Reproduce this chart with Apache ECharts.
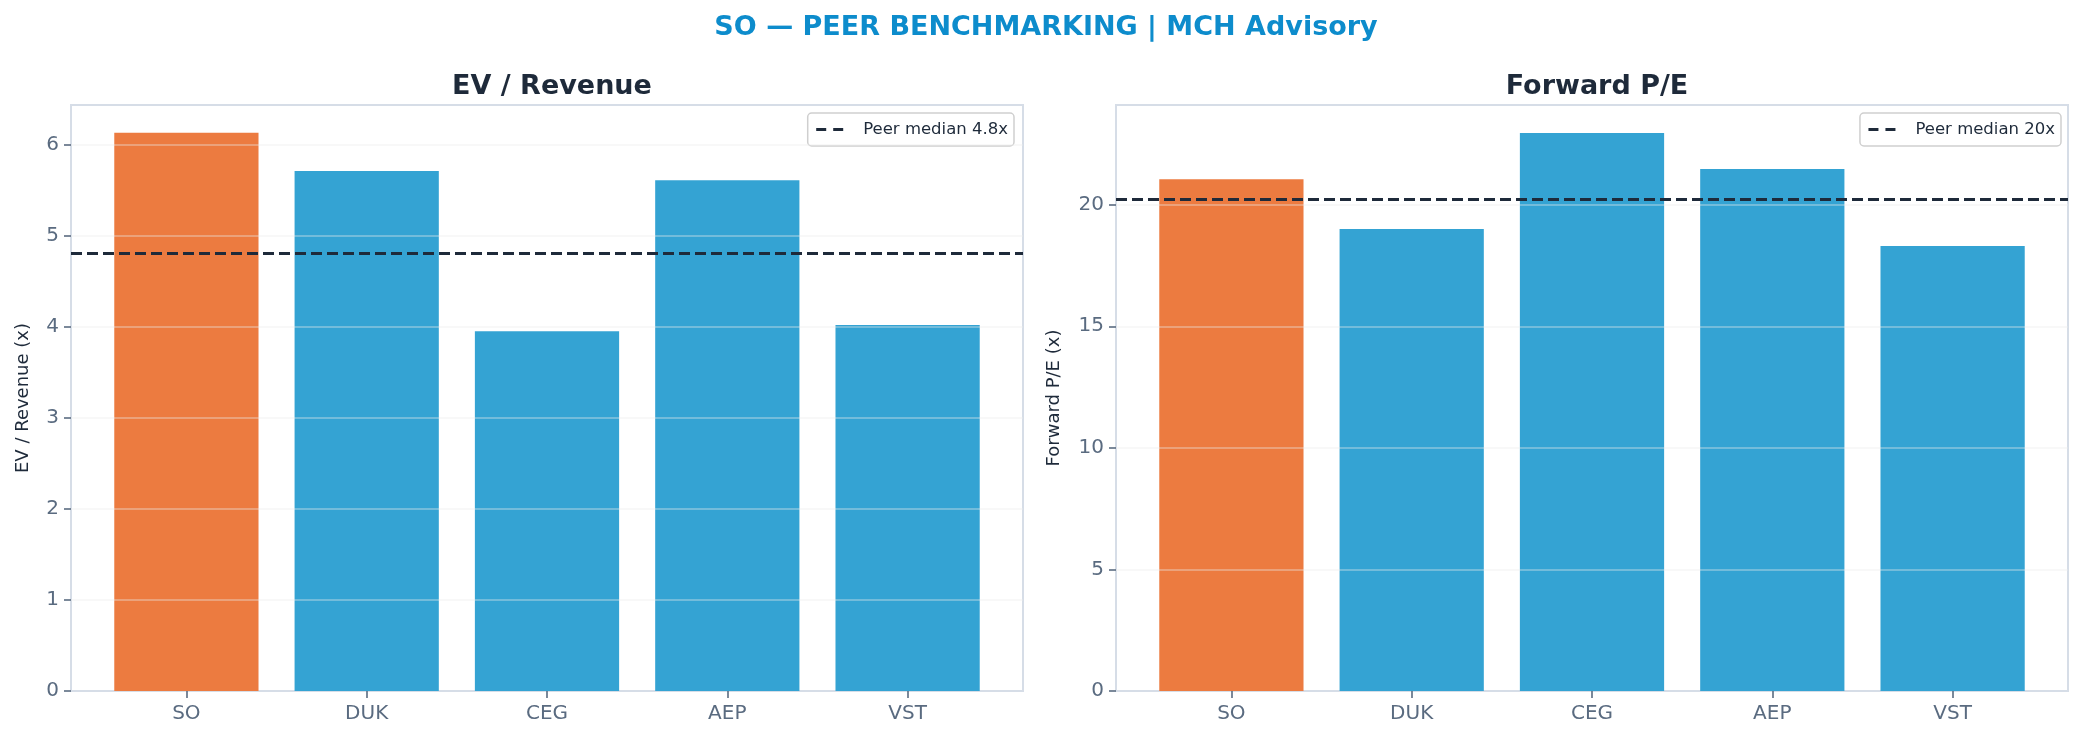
<!DOCTYPE html>
<html>
<head>
<meta charset="utf-8">
<script src="https://cdn.jsdelivr.net/npm/echarts@6/dist/echarts.min.js"></script>
<style>
html,body{margin:0;padding:0;background:#fff;}
#chart{width:2084px;height:741px;}
</style>
</head>
<body>
<div id="chart"></div>
<script>
// ---- data ----
const categories = ['SO', 'DUK', 'CEG', 'AEP', 'VST'];
const evRevenue = [6.13, 5.71, 3.95, 5.61, 4.02];
const forwardPE = [21.05, 19.0, 22.95, 21.47, 18.3];
const evMedian = 4.81;
const peMedian = 20.23;
const evTicks = [0, 1, 2, 3, 4, 5, 6];
const peTicks = [0, 5, 10, 15, 20];
const evLegend = 'Peer median 4.8x';
const peLegend = 'Peer median 20x';
const highlight = 'SO';

// ---- styles ----
const FONT = 'DejaVu Sans';
const ORANGE = '#ec7b40';
const BLUE = '#34a3d3';
const DARK = '#1e2a3a';
const SLATE = '#5a6b80';
const FRAME = '#d6dde7';
const XMIN = -0.64, XMAX = 4.64;

const grids = [
  {left: 71, top: 105, width: 952, height: 586},
  {left: 1116, top: 105, width: 952, height: 586}
];

const chart = echarts.init(document.getElementById('chart'), null, {renderer: 'canvas'});

function makeX(i) {
  return {
    type: 'value', gridIndex: i, min: XMIN, max: XMAX,
    axisLine: {show: true, onZero: false, lineStyle: {color: FRAME, width: 2}},
    splitLine: {show: false},
    axisTick: {show: true, customValues: categories.map((c, k) => k), length: 7,
      lineStyle: {color: SLATE, width: 1.6}},
    axisLabel: {show: true, customValues: categories.map((c, k) => k), margin: 13,
      fontFamily: FONT, fontSize: 20, color: SLATE,
      formatter: v => categories[Math.round(v)] || ''}
  };
}
function makeY(i, max, ticks, name, gap) {
  return {
    type: 'value', gridIndex: i, min: 0, max: max,
    name: name, nameLocation: 'middle', nameRotate: 90, nameGap: gap,
    nameTextStyle: {fontFamily: FONT, fontSize: 18, color: DARK},
    axisLine: {show: true, onZero: false, lineStyle: {color: FRAME, width: 2}},
    splitLine: {show: false},
    axisTick: {show: true, customValues: ticks, length: 7, lineStyle: {color: SLATE, width: 1.6}},
    axisLabel: {show: true, customValues: ticks, margin: 12, fontFamily: FONT, fontSize: 20, color: SLATE}
  };
}
function barSeries(i, values, ticks) {
  const bw = 0.8 * grids[i].width / (XMAX - XMIN);
  return {
    type: 'bar', xAxisIndex: i, yAxisIndex: i, barWidth: bw, z: 2,
    data: values.map((v, k) => ({value: [k, v],
      itemStyle: {color: categories[k] === highlight ? ORANGE : BLUE}})),
    markLine: {silent: true, symbol: 'none', label: {show: false},
      lineStyle: {color: 'rgba(235,235,235,0.35)', type: 'solid', width: 2},
      data: ticks.filter(t => t > 0).map(t => ({yAxis: t}))},
    animation: false
  };
}
function medianSeries(i, name, med) {
  return {
    type: 'line', name: name, xAxisIndex: i, yAxisIndex: i, data: [], symbol: 'none', z: 5,
    lineStyle: {color: DARK, type: [11, 5], width: 3},
    itemStyle: {color: DARK},
    markLine: {silent: true, symbol: 'none', label: {show: false},
      lineStyle: {color: DARK, type: [11, 5], width: 3},
      data: [{yAxis: med}]},
    animation: false
  };
}
function legend(name, right) {
  return {
    show: true, data: [name], orient: 'horizontal',
    right: right, top: 113, itemWidth: 32, itemHeight: 14, itemGap: 8,
    padding: [8, 6, 8, 7], borderColor: '#cfcfcf', borderWidth: 1.5, borderRadius: 4,
    backgroundColor: 'rgba(255,255,255,0.85)',
    itemStyle: {color: 'rgba(0,0,0,0)', borderWidth: 0, borderColor: 'rgba(0,0,0,0)'},
    lineStyle: {color: DARK, type: [10, 7], width: 3},
    textStyle: {fontFamily: FONT, fontSize: 16.5, color: DARK, padding: [0, 0, 0, 10]}
  };
}

const option = {
  backgroundColor: '#ffffff',
  animation: false,
  title: [
    {text: 'SO — PEER BENCHMARKING | MCH Advisory', left: 1041, textAlign: 'center', top: 9,
      textStyle: {fontFamily: FONT, fontSize: 27, fontWeight: 'bold', color: '#0d8ccc'}},
    {text: 'EV / Revenue', left: 547, textAlign: 'center', top: 68,
      textStyle: {fontFamily: FONT, fontSize: 27, fontWeight: 'bold', color: DARK}},
    {text: 'Forward P/E', left: 1592, textAlign: 'center', top: 68,
      textStyle: {fontFamily: FONT, fontSize: 27, fontWeight: 'bold', color: DARK}}
  ],
  grid: grids.map(g => Object.assign({show: true, borderColor: FRAME, borderWidth: 2,
    backgroundColor: 'transparent', containLabel: false}, g)),
  legend: [legend(evLegend, 1070), legend(peLegend, 23)],
  xAxis: [makeX(0), makeX(1)],
  yAxis: [makeY(0, 6.435, evTicks, 'EV / Revenue (x)', 39), makeY(1, 24.10, peTicks, 'Forward P/E (x)', 53)],
  series: [
    barSeries(0, evRevenue, evTicks),
    medianSeries(0, evLegend, evMedian),
    barSeries(1, forwardPE, peTicks),
    medianSeries(1, peLegend, peMedian)
  ]
};
chart.setOption(option);
</script>
</body>
</html>
